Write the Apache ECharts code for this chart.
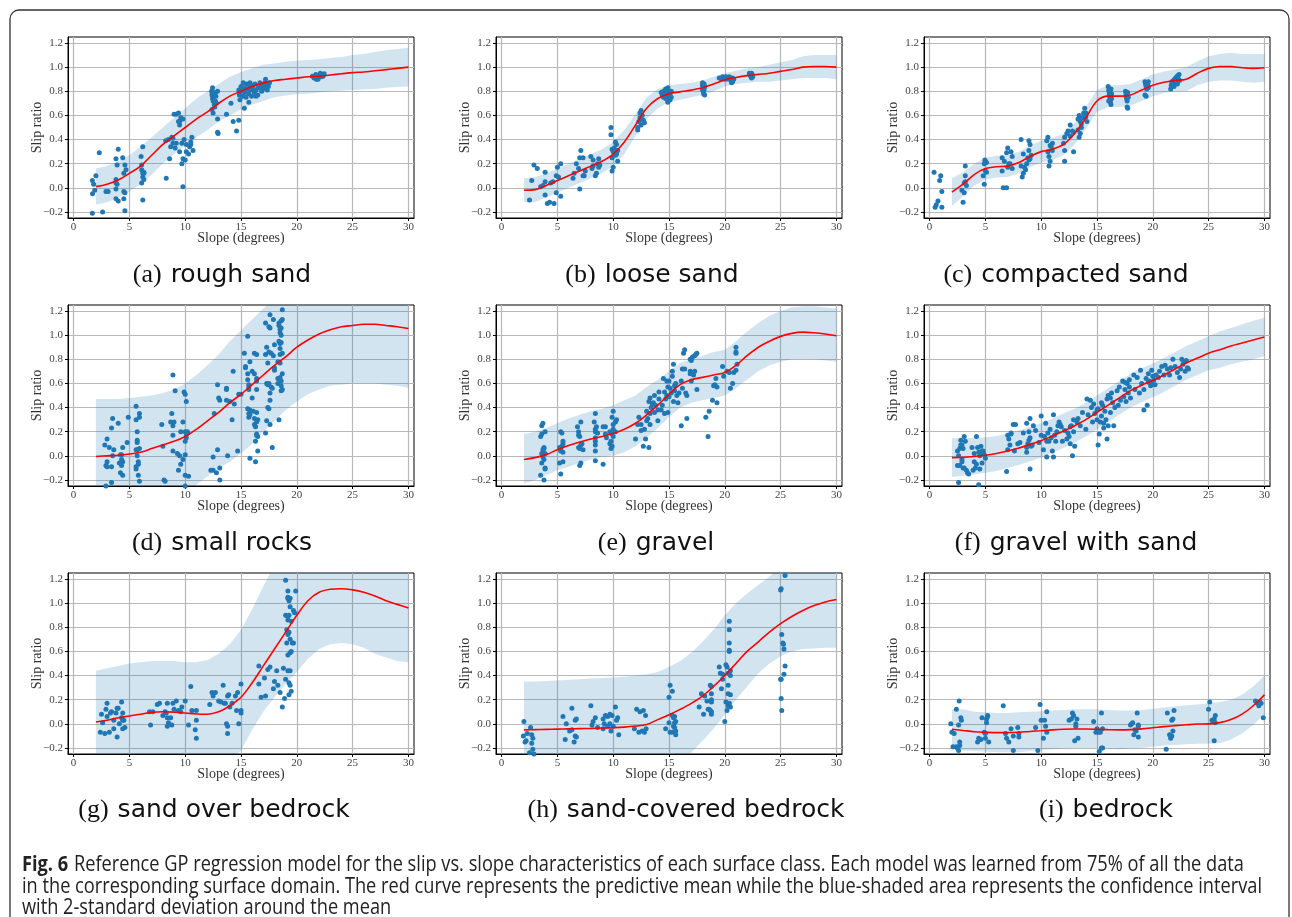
<!DOCTYPE html>
<html>
<head>
<meta charset="utf-8">
<script src="https://cdn.jsdelivr.net/npm/echarts@6.0.0/dist/echarts.min.js"></script>
<style>
html,body{margin:0;padding:0;background:#fff;}
#chart{width:1292px;height:917px;}
</style>
</head>
<body>
<div id="chart"></div>
<script>
// ---------------- DATA ----------------
const slopeSamples = [2,3,4,5,6,7,8,9,10,11,12,13,14,15,16,17,18,19,20,21,22,23,24,25,26,27,28,29,30];
const xTickValues = [0,5,10,15,20,25,30];
const yTickValues = [-0.2,0,0.2,0.4,0.6,0.8,1.0,1.2];

const panelLetters = ['(a)','(b)','(c)','(d)','(e)','(f)','(g)','(h)','(i)'];
const panelNames = ['rough sand','loose sand','compacted sand','small rocks','gravel','gravel with sand','sand over bedrock','sand-covered bedrock','bedrock'];

const captionLine1Bold = 'Fig. 6';
const captionLine1 = 'Reference GP regression model for the slip vs. slope characteristics of each surface class. Each model was learned from 75% of all the data';
const captionLine2 = 'in the corresponding surface domain. The red curve represents the predictive mean while the blue-shaded area represents the confidence interval';
const captionLine3 = 'with 2-standard deviation around the mean';

// (a) rough sand
const pointsRoughSand = [[1.68,-0.21],[1.68,0.06],[1.8,0.03],[1.7,-0.05],[1.9,-0.02],[2.0,0.1],[2.3,0.29],[2.6,-0.2],[2.9,-0.03],[3.1,-0.03],[3.8,0.07],[3.8,0.24],[3.9,0.19],[3.8,0.04],[3.8,-0.01],[3.9,0.03],[4.0,0.32],[3.8,-0.09],[4.0,-0.11],[4.4,0.25],[4.5,0.12],[4.6,0.19],[4.5,-0.03],[4.6,-0.04],[4.5,-0.09],[4.6,-0.19],[4.7,0.15],
[6.05,0.26],[6.2,0.34],[6.1,0.19],[6.1,0.15],[6.2,0.12],[6.2,0.09],[6.3,0.07],[6.1,0.04],[6.2,-0.1],[6.3,0.13],[6.3,0.12],
[8.3,0.08],[8.25,0.39],[8.5,0.4],[8.6,0.24],[8.8,0.42],[8.7,0.34],[8.9,0.41],[8.9,0.37],[9.0,0.61],[9.2,0.61],[9.4,0.62],[9.5,0.55],[9.5,0.52],[9.6,0.58],[9.4,0.55],[9.2,0.37],[9.1,0.33],[9.5,0.3],[9.7,0.37],[9.7,0.2],[9.8,0.24],[9.8,0.01],[9.8,0.57],[9.9,0.4],[10.0,0.23],[10.1,0.3],[10.3,0.28],[10.5,0.38],[10.6,0.42],[10.5,0.36],[10.7,0.31],[10.1,0.36],[10.4,0.34],
[12.37,0.8],[12.4,0.77],[12.45,0.74],[12.5,0.72],[12.6,0.69],[12.4,0.65],[12.5,0.62],[12.7,0.79],[12.75,0.76],[12.8,0.7],[12.65,0.67],[12.45,0.83],[12.9,0.8],[12.7,0.72],[12.9,0.57],[12.9,0.46],[12.95,0.45],[13.7,0.61],[14.1,0.7],[14.3,0.55],[14.6,0.47],[14.8,0.56],
[14.8,0.81],[14.85,0.77],[14.9,0.73],[15.0,0.84],[15.05,0.8],[15.15,0.76],[15.2,0.87],[15.3,0.83],[15.35,0.79],[15.45,0.75],[15.3,0.66],[15.5,0.86],[15.6,0.82],[15.7,0.78],[15.75,0.84],[15.8,0.87],[15.9,0.81],[15.95,0.76],[16.05,0.85],[16.1,0.82],[16.2,0.79],[15.7,0.71],[16.25,0.86],[16.35,0.81],[16.5,0.77],[16.55,0.83],[16.7,0.87],[16.8,0.84],[16.85,0.8],[16.95,0.82],[17.05,0.85],[17.15,0.87],[17.25,0.83],[17.3,0.86],[17.35,0.81],[17.45,0.84],[17.55,0.87],[17.2,0.9],[16.35,0.76],
[21.4,0.925],[21.55,0.91],[21.7,0.94],[21.8,0.92],[21.9,0.9],[22.0,0.93],[22.1,0.95],[22.2,0.92],[22.3,0.94],[22.35,0.925],[22.45,0.945],[21.75,0.9]];
const meanRoughSand = [0.01,0.03,0.065,0.12,0.18,0.27,0.36,0.43,0.5,0.57,0.63,0.7,0.76,0.8,0.84,0.87,0.89,0.9,0.91,0.92,0.925,0.935,0.945,0.955,0.96,0.97,0.98,0.99,1.0];
const upperRoughSand = [0.16,0.18,0.22,0.27,0.34,0.42,0.5,0.58,0.66,0.74,0.8,0.86,0.92,0.96,0.99,1.02,1.03,1.045,1.055,1.06,1.065,1.075,1.085,1.1,1.11,1.125,1.14,1.15,1.16];
const lowerRoughSand = [-0.14,-0.12,-0.08,-0.03,0.03,0.11,0.2,0.28,0.35,0.42,0.48,0.55,0.6,0.65,0.69,0.72,0.75,0.765,0.775,0.78,0.79,0.8,0.805,0.81,0.815,0.82,0.83,0.835,0.84];

// (b) loose sand
const pointsLooseSand = [[2.5,-0.1],[2.7,0.06],[2.9,0.19],[3.2,0.16],[3.5,0.01],[3.7,0.02],[3.9,0.13],[3.9,0.05],[3.9,-0.06],[4.1,-0.13],[4.3,-0.12],[4.4,0.04],[4.7,-0.13],[4.6,0.05],[4.9,0.1],[4.9,-0.04],[5.0,0.17],[5.1,0.09],[5.3,-0.07],[5.3,0.2],
[6.4,0.08],[6.5,0.12],[6.7,0.2],[7.0,0.25],[7.1,0.31],[6.9,0.16],[7.0,-0.01],[7.3,0.25],[7.3,0.1],[7.4,0.1],[7.5,0.14],
[8.0,0.26],[8.1,0.16],[8.2,0.23],[8.2,0.18],[8.4,0.1],[8.5,0.12],[8.6,0.2],[8.7,0.24],[8.7,0.17],[8.8,0.19],
[9.8,0.5],[9.8,0.44],[9.9,0.32],[9.9,0.25],[9.9,0.14],[10.0,0.17],[10.0,0.3],[10.1,0.33],[10.2,0.38],[10.2,0.27],[10.3,0.36],[10.4,0.31],[10.4,0.22],[10.3,0.28],
[12.2,0.48],[12.2,0.5],[12.3,0.55],[12.4,0.58],[12.4,0.62],[12.5,0.64],[12.5,0.52],[12.7,0.56],[12.8,0.54],[12.6,0.6],
[14.3,0.79],[14.4,0.77],[14.5,0.75],[14.5,0.8],[14.6,0.78],[14.7,0.82],[14.7,0.74],[14.8,0.76],[14.8,0.79],[14.9,0.72],[14.9,0.81],[15.0,0.77],[15.0,0.74],[14.9,0.83],[15.1,0.78],[15.1,0.73],[15.2,0.8],[15.2,0.75],[14.6,0.76],[14.9,0.71],
[18.0,0.87],[18.0,0.85],[18.05,0.83],[18.1,0.8],[18.1,0.78],[18.15,0.86],[18.15,0.82],[18.2,0.77],[18.2,0.84],[18.0,0.81],
[19.5,0.91],[19.7,0.9],[19.8,0.92],[19.9,0.91],[20.0,0.9],[20.1,0.92],[20.2,0.91],[20.3,0.9],[20.4,0.92],[20.5,0.91],[20.6,0.89],[20.7,0.91],[20.7,0.88],[20.8,0.9],[20.6,0.87],
[22.2,0.95],[22.25,0.94],[22.3,0.93],[22.35,0.92],[22.4,0.95],[22.4,0.91],[22.45,0.94],[22.5,0.92]];
const meanLooseSand = [-0.02,-0.015,0.02,0.06,0.1,0.14,0.18,0.22,0.28,0.38,0.52,0.66,0.74,0.78,0.795,0.81,0.83,0.86,0.895,0.915,0.93,0.94,0.95,0.965,0.98,1.0,1.005,1.005,1.0];
const upperLooseSand = [0.08,0.09,0.12,0.16,0.2,0.24,0.28,0.32,0.38,0.48,0.61,0.75,0.82,0.85,0.86,0.87,0.89,0.92,0.95,0.97,0.99,1.0,1.02,1.04,1.06,1.09,1.1,1.1,1.1];
const lowerLooseSand = [-0.12,-0.12,-0.08,-0.04,0.0,0.04,0.08,0.12,0.18,0.28,0.43,0.57,0.66,0.71,0.73,0.75,0.77,0.8,0.84,0.86,0.87,0.88,0.88,0.89,0.9,0.91,0.91,0.91,0.9];

// (c) compacted sand
const pointsCompactedSand = [[0.4,0.13],[0.5,-0.16],[0.6,-0.14],[0.75,-0.11],[0.9,0.06],[1.0,0.1],[1.1,-0.03],[1.1,-0.16],
[2.9,-0.02],[3.0,-0.12],[3.1,-0.04],[3.1,0.04],[3.2,0.18],[3.2,0.1],[3.3,0.02],[3.2,0.05],
[4.8,0.1],[4.9,0.03],[4.9,0.2],[5.0,0.22],[5.0,0.14],[5.1,0.21],[5.1,0.13],[4.95,0.23],
[6.5,0.14],[6.5,0.25],[6.6,0.0],[6.7,0.22],[6.9,0.0],[6.9,0.29],[7.0,0.33],[7.1,0.2],[7.0,0.17],[7.3,0.3],[7.4,0.16],[7.4,0.26],[7.2,0.2],
[8.2,0.4],[8.3,0.09],[8.4,0.12],[8.2,0.18],[8.4,0.28],[8.5,0.17],[8.6,0.15],[8.7,0.2],[8.8,0.25],[8.9,0.31],[8.9,0.39],[9.0,0.36],[9.0,0.24],[9.1,0.27],[8.9,0.23],
[10.5,0.39],[10.6,0.42],[10.6,0.3],[10.7,0.18],[10.8,0.22],[10.7,0.26],[10.9,0.34],[11.0,0.37],[11.0,0.31],[10.8,0.35],
[12.1,0.42],[12.0,0.37],[12.1,0.31],[12.1,0.22],[12.3,0.45],[12.4,0.47],[12.6,0.52],[12.6,0.43],[12.9,0.46],[12.9,0.3],[12.8,0.47],
[13.3,0.48],[13.3,0.57],[13.4,0.42],[13.4,0.6],[13.5,0.55],[13.6,0.53],[13.7,0.58],[13.6,0.5],[13.8,0.62],[13.9,0.66],[14.0,0.59],[14.1,0.55],[14.0,0.62],[13.5,0.45],
[16.0,0.84],[16.05,0.81],[16.1,0.79],[16.1,0.77],[16.15,0.75],[16.2,0.73],[16.2,0.71],[16.25,0.69],[16.25,0.82],[16.3,0.78],[16.3,0.74],[16.1,0.8],[16.2,0.76],[16.05,0.72],
[17.55,0.8],[17.6,0.78],[17.6,0.76],[17.65,0.74],[17.7,0.72],[17.7,0.67],[17.75,0.66],[17.75,0.79],[17.8,0.75],
[19.3,0.88],[19.35,0.86],[19.4,0.84],[19.45,0.82],[19.4,0.76],[19.3,0.77],[19.5,0.87],[19.55,0.85],[19.6,0.83],[19.6,0.88],
[21.6,0.82],[21.65,0.85],[21.7,0.88],[21.8,0.86],[21.85,0.89],[21.9,0.84],[21.95,0.9],[22.0,0.87],[22.05,0.91],[22.1,0.88],[22.15,0.92],[22.2,0.86],[22.25,0.93],[22.3,0.9],[22.35,0.94],[22.4,0.89],[21.75,0.87]];
const meanCompactedSand = [-0.035,0.03,0.11,0.16,0.175,0.18,0.21,0.26,0.3,0.32,0.36,0.45,0.58,0.72,0.76,0.76,0.77,0.81,0.85,0.875,0.89,0.9,0.95,0.99,1.005,1.005,0.995,0.99,0.995];
const upperCompactedSand = [0.08,0.13,0.2,0.25,0.265,0.27,0.3,0.35,0.39,0.41,0.45,0.54,0.67,0.81,0.85,0.85,0.86,0.9,0.94,0.965,0.98,1.0,1.05,1.09,1.11,1.12,1.11,1.11,1.11];
const lowerCompactedSand = [-0.15,-0.07,0.02,0.07,0.085,0.09,0.12,0.17,0.21,0.23,0.27,0.36,0.49,0.63,0.67,0.67,0.68,0.72,0.76,0.785,0.8,0.8,0.85,0.88,0.89,0.89,0.88,0.87,0.88];

// (d) small rocks
const pointsSmallRocks = [[2.8,0.09],[2.9,-0.08],[3.0,-0.05],[3.0,0.14],[3.0,-0.09],[2.9,-0.25],[3.2,0.07],[3.4,0.23],[3.5,0.31],[3.6,0.05],[3.4,-0.09],[3.4,-0.22],[3.5,0.0],
[4.0,0.27],[4.1,-0.06],[4.2,-0.14],[4.3,-0.08],[4.3,0.01],[4.4,-0.05],[4.4,-0.16],[4.4,0.07],[4.3,-0.03],[4.2,0.01],
[4.8,0.11],[4.9,0.32],
[5.6,0.3],[5.6,0.41],[5.6,0.05],[5.6,-0.09],[5.6,-0.11],[5.7,0.13],[5.7,0.11],[5.7,0.2],[5.7,0.0],[5.8,-0.05],[5.8,-0.16],[5.9,0.35],[5.9,0.32],[5.9,0.06],[5.9,-0.21],[5.7,0.05],[5.8,-0.07],
[7.9,0.26],[8.0,0.08],[8.1,-0.2],[8.2,-0.21],
[8.7,0.28],[8.8,0.35],[8.9,0.17],[8.9,0.25],[8.9,0.04],[8.9,0.67],[9.0,0.28],[9.1,0.54],
[9.3,0.02],[9.4,-0.12],[9.6,-0.07],[9.5,0.0],[9.6,0.2],[9.8,0.28],[9.8,-0.03],[9.9,0.53],[10.0,0.51],[10.1,0.45],[10.0,0.2],[10.1,0.18],[10.0,0.12],[10.2,0.2],[10.1,0.15],[10.0,0.01],[10.0,-0.16],[10.3,-0.17],[10.2,0.19],[10.0,-0.25],
[12.3,-0.12],[12.5,-0.01],[12.6,0.35],[12.5,-0.12],[12.8,-0.14],[12.9,0.59],[12.9,0.05],[13.0,0.48],[13.1,0.46],[13.1,-0.1],[13.1,-0.2],
[13.7,0.56],[13.7,0.55],[13.7,0.46],[13.8,0.0],[14.0,0.45],[14.2,0.3],[14.3,0.7],[14.4,0.43],[14.7,0.04],[14.8,0.51],[15.0,0.51],
[15.3,0.85],[15.4,0.73],[15.4,0.74],[15.6,0.99],[15.6,0.68],[15.6,0.63],[15.7,0.57],[15.7,0.59],[15.7,0.55],[15.6,0.39],[15.7,0.35],[15.7,0.32],[15.8,0.38],[15.8,0.34],[15.8,0.78],[15.8,-0.02],[16.0,0.7],[16.0,0.48],[16.1,0.37],[16.2,0.31],[16.2,0.26],[16.3,0.24],[16.3,0.12],[16.2,0.85],[16.4,0.84],[16.2,0.68],[16.4,0.64],[16.4,0.62],[16.4,0.55],[16.4,0.36],[16.4,0.28],[16.4,0.17],[16.5,0.16],[16.5,0.04],[16.3,-0.05],[16.4,0.18],[16.5,0.3],
[17.2,1.1],[17.2,0.84],[17.3,0.9],[17.2,0.19],[17.3,0.29],[17.4,0.4],[17.5,0.39],[17.3,0.6],[17.4,0.59],[17.4,0.77],[17.5,0.86],[17.5,1.07],[17.6,1.06],[17.6,1.17],[17.6,0.52],[17.5,0.6],[17.6,0.46],[17.6,0.26],[17.7,0.85],[17.7,0.57],[17.8,0.07],[17.9,1.13],[17.9,0.83],[18.0,0.71],[18.0,0.92],[18.0,0.73],[17.8,0.56],
[18.3,0.78],[18.3,0.64],[18.3,0.6],[18.4,0.3],[18.4,0.95],[18.4,1.1],[18.4,1.08],[18.5,1.05],[18.5,1.02],[18.5,0.93],[18.5,0.89],[18.5,0.84],[18.5,0.77],[18.5,0.65],[18.6,0.62],[18.6,0.58],[18.6,0.54],[18.6,1.12],[18.7,1.21],[18.6,1.06],[18.6,1.0],[18.6,0.94],[18.7,0.85],[18.7,0.68],[18.7,0.55],[18.7,1.13]];
const meanSmallRocks = [-0.005,0.0,0.005,0.015,0.03,0.06,0.09,0.12,0.16,0.22,0.29,0.36,0.44,0.51,0.59,0.67,0.75,0.82,0.9,0.96,1.01,1.045,1.07,1.08,1.09,1.09,1.08,1.07,1.055];
const upperSmallRocks = [0.47,0.47,0.47,0.48,0.49,0.5,0.52,0.55,0.6,0.67,0.75,0.84,0.95,1.04,1.13,1.22,1.3,1.38,1.45,1.5,1.53,1.55,1.56,1.57,1.57,1.57,1.56,1.55,1.55];
const lowerSmallRocks = [-0.47,-0.47,-0.46,-0.45,-0.43,-0.41,-0.38,-0.34,-0.3,-0.24,-0.17,-0.1,-0.05,0.02,0.1,0.2,0.29,0.38,0.45,0.51,0.55,0.58,0.59,0.6,0.6,0.6,0.59,0.58,0.565];

// (e) gravel
const pointsGravel = [[3.5,0.16],[3.5,-0.16],[3.6,0.18],[3.6,0.25],[3.7,0.27],[3.7,0.05],[3.6,-0.06],[3.6,0.02],[3.8,0.07],[3.7,-0.01],[3.8,0.06],[3.8,-0.03],[3.9,-0.1],[3.9,-0.11],[3.9,0.2],[3.9,0.02],[3.8,-0.2],
[5.3,0.2],[5.4,0.19],[5.2,-0.06],[5.3,-0.15],[5.3,0.05],[5.4,0.08],[5.3,0.04],[5.5,0.03],[5.5,0.1],[5.5,0.12],[5.5,-0.05],[5.2,0.07],
[6.8,0.24],[6.9,0.2],[6.9,0.17],[6.9,0.07],[7.0,0.06],[7.0,-0.08],[7.1,0.28],[7.1,0.09],[7.1,-0.06],[7.2,0.1],[7.3,0.05],[7.0,0.16],
[8.3,0.28],[8.4,0.35],[8.4,0.22],[8.4,0.15],[8.4,0.2],[8.4,0.09],[8.4,0.04],[8.4,-0.04],[8.5,0.24],[8.6,0.19],[8.4,0.12],
[9.1,0.24],[9.1,-0.07],[9.3,0.24],[9.3,0.18],[9.4,0.15],[9.7,0.2],[9.7,0.1],[9.8,0.06],[9.9,0.32],[9.9,0.18],[9.9,0.08],[10.0,0.16],[10.0,0.26],[10.0,0.37],[10.2,0.28],[10.3,0.3],[10.2,0.2],[9.8,0.12],[10.0,0.22],
[12.0,0.14],[12.2,0.26],[12.3,0.32],[12.5,0.26],[12.5,0.21],[12.7,0.08],[12.8,0.22],[12.9,0.14],[13.0,0.37],[13.0,0.29],[13.2,0.07],[13.2,0.45],[13.3,0.48],[13.3,0.35],[13.3,0.26],[13.1,0.31],[13.4,0.4],[13.5,0.43],
[13.6,0.44],[13.7,0.5],[13.7,0.36],[13.8,0.42],[14.0,0.29],[14.0,0.38],[14.1,0.47],[14.1,0.53],[14.5,0.64],[14.3,0.38],[14.4,0.42],[14.6,0.35],[14.7,0.47],[14.8,0.5],[14.8,0.62],[14.9,0.57],[14.9,0.36],[14.6,0.53],
[15.0,0.62],[15.0,0.49],[15.1,0.56],[15.2,0.52],[15.3,0.7],[15.3,0.66],[15.4,0.76],[15.4,0.45],[15.5,0.54],[15.6,0.6],[15.5,0.58],[15.7,0.5],[15.9,0.52],[15.8,0.44],[16.1,0.25],[16.2,0.72],[16.3,0.85],[16.4,0.88],[16.4,0.72],[16.1,0.62],[16.2,0.56],[16.6,0.31],[16.5,0.52],[16.6,0.5],
[16.9,0.7],[16.9,0.68],[16.9,0.8],[17.0,0.62],[17.0,0.79],[17.1,0.82],[17.2,0.67],[17.1,0.69],[17.3,0.83],[17.4,0.84],[17.5,0.85],[17.5,0.55],[17.3,0.7],
[18.3,0.32],[18.5,0.16],[18.6,0.37],[18.9,0.46],[19.0,0.58],[19.1,0.59],[19.2,0.64],[19.3,0.57],[19.3,0.44],[19.8,0.74],[19.9,0.66],[20.2,0.7],[20.4,0.69],[20.5,0.56],[20.7,0.6],[20.8,0.69],[21.0,0.86],[21.0,0.85],[21.0,0.9],[21.1,0.76],[21.0,0.71]];
const meanGravel = [-0.03,-0.015,0.01,0.05,0.085,0.115,0.14,0.16,0.185,0.22,0.27,0.34,0.42,0.51,0.59,0.63,0.65,0.67,0.69,0.75,0.83,0.9,0.95,0.99,1.015,1.025,1.02,1.01,0.995];
const upperGravel = [0.18,0.2,0.23,0.27,0.31,0.34,0.37,0.39,0.42,0.46,0.5,0.57,0.63,0.7,0.77,0.8,0.83,0.86,0.88,0.95,1.03,1.1,1.16,1.2,1.23,1.24,1.24,1.23,1.22];
const lowerGravel = [-0.23,-0.2,-0.16,-0.12,-0.09,-0.06,-0.03,-0.01,0.0,0.03,0.08,0.15,0.23,0.32,0.4,0.44,0.46,0.48,0.5,0.56,0.63,0.7,0.75,0.78,0.8,0.8,0.8,0.79,0.78];

// (f) gravel with sand
const pointsGravelSand = [[2.5,0.04],[2.5,-0.08],[2.6,-0.22],[2.6,0.0],[2.7,0.06],[2.7,-0.08],[2.8,0.13],[2.8,0.09],[2.9,-0.03],[2.9,-0.05],[2.9,0.09],[3.0,-0.1],[3.1,0.16],[3.1,-0.1],[3.3,-0.12],[3.2,0.12],[3.4,-0.14],[3.5,-0.15],[3.0,0.06],
[3.8,0.07],[3.9,-0.12],[4.0,-0.05],[4.0,0.02],[4.1,-0.1],[4.2,0.16],[4.2,-0.07],[4.3,0.07],[4.4,0.03],[4.4,-0.24],[4.5,-0.11],[4.5,0.0],[4.6,0.08],[4.7,-0.06],[4.8,0.04],[4.9,0.01],[4.8,0.02],[5.0,-0.02],[4.7,0.04],
[6.9,-0.13],[7.0,0.05],[7.0,0.17],[7.1,0.14],[7.2,0.09],[7.3,0.18],[7.3,0.19],[7.5,0.26],[7.6,0.04],[7.7,0.26],[7.9,0.1],[8.1,0.11],
[8.4,0.19],[8.7,0.27],[8.7,0.03],[8.7,0.07],[8.8,0.1],[8.9,0.2],[8.9,0.13],[9.0,0.31],[9.0,-0.11],[9.0,0.15],[9.1,0.08],[9.2,0.09],[9.3,0.25],[9.5,0.21],[9.8,0.11],[10.0,0.33],[10.0,0.17],[10.2,0.05],
[10.3,0.16],[10.4,0.27],[10.5,-0.01],[10.5,0.12],[10.6,0.19],[10.7,0.12],[10.8,0.22],[10.9,0.15],[11.0,0.04],[11.1,0.34],[11.1,-0.01],[11.2,0.17],[11.3,0.12],[11.4,0.2],[11.5,0.25],[11.7,0.26],[11.8,0.24],[11.9,0.12],[11.6,0.28],
[12.1,0.21],[12.3,0.14],[12.4,0.19],[12.5,0.16],[12.6,0.1],[12.6,0.24],[12.7,0.25],[12.8,0.0],[12.9,0.3],[12.9,0.2],[13.0,0.08],[13.2,0.28],[13.3,0.31],[13.5,0.25],[13.7,0.36],[14.0,0.22],[14.1,0.47],[14.4,0.46],[14.2,0.34],[14.5,0.4],
[14.6,0.28],[14.7,0.43],[14.8,0.35],[15.0,0.38],[15.0,0.3],[15.1,0.39],[15.1,0.09],[15.2,0.18],[15.3,0.28],[15.4,0.44],[15.4,0.33],[15.5,0.42],[15.6,0.23],[15.7,0.37],[15.8,0.3],[15.9,0.14],[15.9,0.47],[16.0,0.5],[16.0,0.25],[15.6,0.27],
[16.2,0.48],[16.2,0.36],[16.3,0.52],[16.4,0.44],[16.5,0.25],[16.6,0.4],[16.8,0.54],[16.9,0.42],[17.0,0.57],[17.1,0.46],[17.3,0.62],[17.4,0.49],[17.5,0.61],[17.5,0.55],[17.6,0.45],[17.8,0.52],[17.9,0.63],[17.9,0.57],[18.0,0.48],[17.7,0.6],
[18.3,0.67],[18.4,0.55],[18.6,0.65],[18.9,0.71],[18.8,0.52],[19.0,0.6],[19.2,0.55],[19.2,0.38],[19.4,0.64],[19.5,0.42],[19.6,0.68],[19.7,0.62],[19.8,0.58],[19.9,0.6],[20.0,0.66],[19.9,0.71],[20.1,0.63],[20.2,0.59],[20.3,0.67],[19.6,0.61],
[20.5,0.65],[20.6,0.7],[20.8,0.74],[21.0,0.67],[21.1,0.75],[21.3,0.72],[21.5,0.67],[21.6,0.73],[21.8,0.8],[22.0,0.74],[22.2,0.69],[22.4,0.65],[22.5,0.72],[22.6,0.8],[22.7,0.76],[22.8,0.78],[22.9,0.7],[23.0,0.79],[23.1,0.73],[23.2,0.72]];
const meanGravelSand = [-0.015,-0.012,-0.005,0.005,0.02,0.04,0.065,0.095,0.125,0.165,0.205,0.25,0.3,0.36,0.42,0.48,0.54,0.585,0.625,0.67,0.72,0.77,0.81,0.85,0.88,0.91,0.935,0.96,0.985];
const upperGravelSand = [0.145,0.145,0.15,0.155,0.165,0.185,0.21,0.24,0.27,0.31,0.35,0.39,0.44,0.5,0.56,0.62,0.68,0.725,0.765,0.81,0.86,0.91,0.95,0.99,1.03,1.06,1.09,1.12,1.145];
const lowerGravelSand = [-0.175,-0.165,-0.155,-0.14,-0.125,-0.1,-0.075,-0.045,-0.015,0.025,0.065,0.11,0.16,0.22,0.28,0.34,0.4,0.445,0.485,0.53,0.58,0.63,0.67,0.71,0.73,0.76,0.78,0.8,0.825];

// (g) sand over bedrock
const pointsSandOverBedrock = [[2.4,-0.07],[2.5,0.08],[2.6,0.01],[2.8,-0.08],[2.9,0.12],[3.0,0.17],[3.0,0.06],[3.2,-0.07],[3.3,0.09],[3.4,0.1],[3.6,0.03],[3.6,-0.04],[3.8,0.09],[3.9,0.13],[3.9,-0.11],[4.0,0.13],[4.1,0.0],[4.3,0.18],[4.3,0.05],[4.4,0.09],[4.4,0.03],[4.4,-0.04],[4.5,0.03],[4.6,-0.03],
[6.8,0.1],[6.9,-0.01],[7.1,0.1],[7.5,0.16],[7.7,0.17],[8.0,0.07],[8.2,0.1],[8.3,0.09],[8.4,0.05],[8.4,-0.02],[8.4,0.17],[8.5,0.01],[8.7,0.05],[8.8,-0.01],[8.9,0.17],[9.0,0.12],[9.2,0.19],
[9.4,0.11],[9.7,0.14],[10.0,0.19],[9.6,0.1],[10.3,-0.01],[10.5,0.31],[10.6,0.11],[10.9,-0.05],[11.0,0.03],[11.0,0.11],[11.0,-0.12],
[12.2,0.16],[12.4,0.26],[12.5,0.23],[12.7,0.26],[13.0,0.19],[13.2,0.18],[13.4,0.32],[13.5,0.17],[13.6,0.17],[13.7,0.0],[13.8,-0.02],[13.8,-0.08],[13.8,0.23],[13.9,0.24],[14.0,0.14],[14.2,0.17],[14.5,0.23],[14.6,0.11],[14.7,0.26],[14.8,0.0],[15.0,0.09],[15.0,0.33],[15.0,0.11],
[16.6,0.33],[16.6,0.48],[16.8,0.22],[17.1,0.38],[17.2,0.23],[17.4,0.45],[17.6,0.47],[17.9,0.29],[18.0,0.35],[18.2,0.44],[18.3,0.32],[18.5,0.26],[18.7,0.14],[18.8,0.46],[18.9,0.21],
[19.0,0.37],[19.0,1.19],[19.2,1.1],[19.2,1.05],[19.2,1.04],[19.3,1.02],[19.0,0.9],[19.2,0.89],[19.3,0.9],[19.2,0.86],[19.1,0.78],[19.2,0.74],[19.3,0.76],[19.4,0.7],[19.1,0.67],[19.6,0.67],[19.7,0.67],[19.4,0.59],[19.2,0.57],[19.5,0.6],[19.2,0.44],[19.4,0.44],[19.3,0.34],[19.4,0.32],[19.3,0.24],[19.5,0.27],[19.4,1.04],[19.4,0.97],[19.7,0.94],[19.8,0.92],[19.9,1.1],[19.5,0.85]];
const meanSandOverBedrock = [0.015,0.03,0.05,0.065,0.08,0.095,0.1,0.097,0.09,0.082,0.08,0.1,0.15,0.22,0.34,0.48,0.62,0.76,0.9,1.02,1.09,1.115,1.12,1.11,1.09,1.06,1.02,0.99,0.96];
const upperSandOverBedrock = [0.44,0.46,0.48,0.5,0.51,0.52,0.52,0.52,0.51,0.51,0.53,0.58,0.66,0.78,0.95,1.14,1.32,1.5,1.6,1.62,1.62,1.62,1.6,1.58,1.55,1.52,1.48,1.45,1.42];
const lowerSandOverBedrock = [-0.42,-0.41,-0.4,-0.39,-0.38,-0.37,-0.36,-0.36,-0.36,-0.36,-0.36,-0.34,-0.3,-0.22,-0.05,0.1,0.22,0.33,0.43,0.54,0.62,0.66,0.67,0.66,0.63,0.58,0.55,0.52,0.51];

// (h) sand-covered bedrock
const pointsSandCoveredBedrock = [[2.0,0.02],[1.95,-0.1],[2.1,-0.15],[2.2,-0.14],[2.3,-0.08],[2.5,-0.24],[2.6,-0.03],[2.7,-0.09],[2.7,-0.16],[2.8,-0.12],[2.8,-0.21],[2.9,-0.25],
[5.5,0.06],[5.7,-0.13],[5.8,0.0],[6.1,-0.06],[6.3,0.13],[6.3,-0.05],[6.5,-0.15],[6.6,-0.1],[6.6,0.03],[6.7,0.04],[6.7,-0.11],
[8.0,0.15],[8.1,-0.01],[8.2,0.02],[8.4,0.05],[8.6,-0.03],[9.1,0.04],[9.1,-0.04],[9.2,0.0],[9.3,0.07],[9.5,0.06],[9.5,-0.02],[9.7,0.08],[9.7,0.0],[9.8,-0.06],[9.9,0.07],[10.0,-0.02],[10.2,0.14],[10.3,0.03],[10.4,0.05],[10.5,-0.09],
[11.9,-0.04],[12.1,0.12],[12.3,-0.07],[12.4,0.1],[12.6,-0.06],[12.7,0.11],[12.8,-0.07],[12.9,0.07],[12.95,-0.04],
[14.7,-0.04],[15.0,0.22],[15.1,0.32],[15.3,0.27],[15.0,0.01],[15.1,-0.07],[15.3,-0.07],[15.3,0.07],[15.4,0.05],[15.4,-0.02],[15.5,0.01],[15.5,-0.03],[15.6,-0.06],[15.6,-0.09],[15.6,0.02],[15.5,0.06],
[17.7,0.14],[17.9,0.25],[18.1,0.08],[18.2,0.23],[18.4,0.19],[18.5,0.12],[18.6,0.12],[18.7,0.11],[18.7,0.32],[18.8,0.31],[18.8,0.25],[18.8,0.2],[18.8,0.18],[18.8,0.08],[18.8,0.1],
[19.5,0.47],[19.6,0.42],[19.7,0.29],[19.8,0.41],[19.8,0.37],[20.0,0.02],[20.1,0.49],[20.2,0.47],[20.1,0.18],[20.2,0.11],[20.3,0.42],[20.3,0.32],[20.3,0.25],[20.4,0.17],[20.3,0.15],[20.4,0.85],[20.4,0.78],[20.4,0.67],[20.4,0.61],[20.4,0.6],[20.5,0.44],[20.5,0.24],[20.5,0.14],[20.5,0.4],
[25.0,1.11],[25.05,1.12],[25.0,0.37],[25.05,0.37],[25.05,0.21],[25.1,0.11],[25.1,0.74],[25.2,0.67],[25.25,0.66],[25.3,0.62],[25.4,1.23],[25.4,0.48],[25.3,0.41]];
const meanSandCoveredBedrock = [-0.05,-0.048,-0.046,-0.044,-0.042,-0.04,-0.038,-0.035,-0.032,-0.027,-0.018,-0.005,0.035,0.075,0.12,0.17,0.23,0.31,0.4,0.5,0.6,0.68,0.76,0.83,0.89,0.94,0.98,1.01,1.03];
const upperSandCoveredBedrock = [0.35,0.35,0.355,0.36,0.365,0.37,0.375,0.38,0.385,0.39,0.4,0.41,0.43,0.47,0.52,0.59,0.68,0.78,0.9,1.0,1.08,1.15,1.22,1.3,1.36,1.4,1.42,1.43,1.44];
const lowerSandCoveredBedrock = [-0.45,-0.45,-0.45,-0.45,-0.45,-0.45,-0.44,-0.44,-0.44,-0.43,-0.42,-0.4,-0.36,-0.32,-0.28,-0.24,-0.14,-0.04,0.08,0.2,0.31,0.42,0.5,0.56,0.6,0.62,0.625,0.63,0.63];

// (i) bedrock
const pointsBedrock = [[1.9,0.0],[2.0,-0.07],[2.1,-0.19],[2.2,-0.08],[2.4,0.12],[2.4,-0.19],[2.6,-0.22],[2.7,-0.18],[2.7,-0.15],[2.6,-0.01],[2.65,0.19],[2.8,0.05],[2.85,0.03],[2.5,-0.2],
[4.3,-0.15],[4.4,-0.12],[4.6,-0.13],[4.7,0.05],[4.9,-0.07],[5.0,-0.08],[5.0,-0.12],[5.1,0.01],[5.1,0.04],[5.2,0.06],[5.2,0.07],[5.3,-0.15],
[6.6,0.15],[6.8,-0.08],[6.9,-0.12],[7.1,-0.15],[7.3,-0.04],[7.5,-0.1],[7.5,-0.22],[7.9,-0.03],[8.0,-0.08],[8.0,-0.11],
[9.5,-0.03],[9.7,-0.22],[9.9,0.16],[10.0,0.03],[10.2,-0.12],[10.3,0.03],[10.4,-0.02],[10.5,0.1],[10.5,-0.07],
[12.5,0.03],[12.7,0.04],[12.8,0.09],[12.9,0.07],[13.0,-0.14],[13.1,0.0],[13.1,-0.02],[13.2,0.04],[13.3,-0.12],
[14.7,0.02],[14.9,-0.07],[15.0,-0.04],[15.1,-0.07],[15.2,-0.06],[15.2,-0.23],[15.3,-0.07],[15.4,-0.2],[15.5,-0.2],[15.4,0.09],[15.5,-0.04],
[18.0,-0.01],[18.1,0.0],[18.3,-0.09],[18.2,0.01],[18.4,-0.05],[18.5,-0.06],[18.6,0.09],[18.7,-0.01],[18.7,-0.11],[18.7,-0.02],
[21.2,-0.21],[21.3,0.09],[21.5,-0.09],[21.6,-0.12],[21.7,-0.1],[21.7,0.03],[21.8,0.04],[21.8,-0.06],[21.9,0.11],
[25.0,0.12],[25.1,0.18],[25.3,0.03],[25.4,0.02],[25.5,0.04],[25.6,0.07],[25.6,0.01],[25.5,-0.14],
[29.2,0.19],[29.4,0.17],[29.5,0.15],[29.6,0.18],[29.7,0.17],[29.9,0.05]];
const meanBedrock = [-0.045,-0.055,-0.065,-0.07,-0.073,-0.073,-0.07,-0.063,-0.057,-0.05,-0.045,-0.043,-0.043,-0.045,-0.048,-0.05,-0.048,-0.042,-0.033,-0.023,-0.015,-0.008,-0.002,0.0,0.01,0.035,0.08,0.15,0.24];
const upperBedrock = [0.12,0.12,0.1,0.095,0.09,0.09,0.095,0.1,0.105,0.11,0.115,0.12,0.12,0.12,0.115,0.11,0.11,0.115,0.125,0.135,0.145,0.155,0.16,0.17,0.18,0.2,0.24,0.31,0.4];
const lowerBedrock = [-0.21,-0.22,-0.225,-0.23,-0.235,-0.235,-0.235,-0.225,-0.215,-0.21,-0.205,-0.2,-0.2,-0.2,-0.205,-0.21,-0.205,-0.2,-0.19,-0.18,-0.175,-0.17,-0.165,-0.165,-0.16,-0.13,-0.08,-0.01,0.08];

// ---------------- LAYOUT / STYLE ----------------
const panels = [
  [pointsRoughSand, meanRoughSand, lowerRoughSand, upperRoughSand],
  [pointsLooseSand, meanLooseSand, lowerLooseSand, upperLooseSand],
  [pointsCompactedSand, meanCompactedSand, lowerCompactedSand, upperCompactedSand],
  [pointsSmallRocks, meanSmallRocks, lowerSmallRocks, upperSmallRocks],
  [pointsGravel, meanGravel, lowerGravel, upperGravel],
  [pointsGravelSand, meanGravelSand, lowerGravelSand, upperGravelSand],
  [pointsSandOverBedrock, meanSandOverBedrock, lowerSandOverBedrock, upperSandOverBedrock],
  [pointsSandCoveredBedrock, meanSandCoveredBedrock, lowerSandCoveredBedrock, upperSandCoveredBedrock],
  [pointsBedrock, meanBedrock, lowerBedrock, upperBedrock]
];
const colLeft = [68, 496, 924];
const rowTop = [37, 305, 573];
const plotW = 346, plotH = 181;
const captionY = [275, 543, 810];
const captionCx = [222, 652, 1066, 222, 656, 1076, 214, 686, 1106];

const serif = "'Liberation Serif','DejaVu Serif',serif";
const sans = "'DejaVu Sans','Noto Sans',sans-serif";
const tickColor = '#444';
const gridColor = '#b8b8b8';
const blue = '#1f77b4';

const grids = [], xAxes = [], yAxes = [], series = [], graphics = [];
const fmtY = v => (v < 0 ? '\u2212' : '') + Math.abs(v).toFixed(1);

panels.forEach((p, i) => {
  const col = i % 3, row = Math.floor(i / 3);
  const [pts, mean, lo, hi] = p;
  grids.push({left: colLeft[col], top: rowTop[row], width: plotW, height: plotH,
    show: true, borderColor: '#000', borderWidth: 1, backgroundColor: 'transparent'});
  xAxes.push({gridIndex: i, type: 'value', min: -0.5, max: 30.5,
    axisLine: {show: true, onZero: false, lineStyle: {color: '#000', width: 1}},
    axisTick: {show: true, customValues: xTickValues, length: 3, lineStyle: {color: '#000'}},
    axisLabel: {customValues: xTickValues, margin: 4, fontFamily: serif, fontSize: 11, color: tickColor},
    splitLine: {show: true, lineStyle: {color: gridColor, width: 1.2}},
    name: 'Slope (degrees)', nameLocation: 'middle', nameGap: 13, nameMoveOverlap: false,
    nameTextStyle: {fontFamily: serif, fontSize: 14, color: '#333', verticalAlign: 'top'}
  });
  yAxes.push({gridIndex: i, type: 'value', min: -0.25, max: 1.25,
    axisLine: {show: true, onZero: false, lineStyle: {color: '#000', width: 1}},
    axisTick: {show: true, customValues: yTickValues, length: 3, lineStyle: {color: '#000'}},
    axisLabel: {customValues: yTickValues, margin: 5, fontFamily: serif, fontSize: 11, color: tickColor, formatter: fmtY},
    splitLine: {show: true, lineStyle: {color: gridColor, width: 1.2}},
    name: 'Slip ratio', nameLocation: 'middle', nameGap: 24, nameMoveOverlap: false,
    nameTextStyle: {fontFamily: serif, fontSize: 14, color: '#333'}
  });
  // confidence band drawn as one polygon through the axis scales, clipped to the plot
  series.push({type: 'custom', xAxisIndex: i, yAxisIndex: i, silent: true, z: 1,
    data: [[slopeSamples[0], lo[0]]],
    renderItem: (params, api) => {
      const top = slopeSamples.map((x, k) => api.coord([x, hi[k]]));
      const bot = slopeSamples.map((x, k) => api.coord([x, lo[k]])).reverse();
      const cs = params.coordSys;
      return {type: 'polygon', shape: {points: top.concat(bot)},
        style: {fill: 'rgba(31,119,180,0.2)', stroke: null},
        clipPath: {type: 'rect', shape: {x: cs.x, y: cs.y, width: cs.width, height: cs.height}}};
    }});
  series.push({type: 'scatter', xAxisIndex: i, yAxisIndex: i, symbolSize: 5,
    itemStyle: {color: blue, opacity: 1}, data: pts, z: 2});
  series.push({type: 'line', xAxisIndex: i, yAxisIndex: i, symbol: 'none', smooth: 0.35,
    lineStyle: {color: '#ff0000', width: 1.6}, data: slopeSamples.map((x, k) => [x, mean[k]]), z: 3});
  graphics.push({type: 'text', x: captionCx[i], y: captionY[row],
    style: {text: '{l|' + panelLetters[i] + '}{s| }{n|' + panelNames[i] + '}', align: 'center', verticalAlign: 'middle',
      rich: {l: {fontFamily: serif, fontSize: 26, fill: '#111'},
             s: {fontFamily: serif, fontSize: 26, width: 9},
             n: {fontFamily: sans, fontSize: 25, fill: '#111'}}}});
});

// caption: regular sans compressed horizontally to match the reference's condensed face
const capFamily = "'Open Sans','Noto Sans',sans-serif";
const capSize = 21;
function textWidth(text, weight) {
  const c = document.createElement('canvas').getContext('2d');
  c.font = (weight || '') + ' ' + capSize + 'px ' + capFamily;
  return c.measureText(text).width;
}
const capScale = 1240 / textWidth(captionLine2);

graphics.push({type: 'text', x: 22, y: 865, scaleX: capScale, style: {
  text: '{b|' + captionLine1Bold + '}  {r|' + captionLine1 + '}', verticalAlign: 'middle',
  rich: {b: {fontFamily: capFamily, fontSize: capSize, fontWeight: 'bold', fill: '#222'},
         r: {fontFamily: capFamily, fontSize: capSize, fill: '#222'}}}});
graphics.push({type: 'text', x: 22, y: 887, scaleX: capScale, style: {text: captionLine2, verticalAlign: 'middle', fontFamily: capFamily, fontSize: capSize, fill: '#222'}});
graphics.push({type: 'text', x: 22, y: 908, scaleX: capScale, style: {text: captionLine3, verticalAlign: 'middle', fontFamily: capFamily, fontSize: capSize, fill: '#222'}});
graphics.push({type: 'rect', shape: {x: 10, y: 10, width: 1279, height: 940, r: 9},
  style: {fill: 'none', stroke: '#333', lineWidth: 1.3}, silent: true});

const chart = echarts.init(document.getElementById('chart'), null, {renderer: 'canvas'});
chart.setOption({
  animation: false,
  backgroundColor: '#fff',
  grid: grids, xAxis: xAxes, yAxis: yAxes, series: series,
  graphic: graphics
});
</script>
</body>
</html>
